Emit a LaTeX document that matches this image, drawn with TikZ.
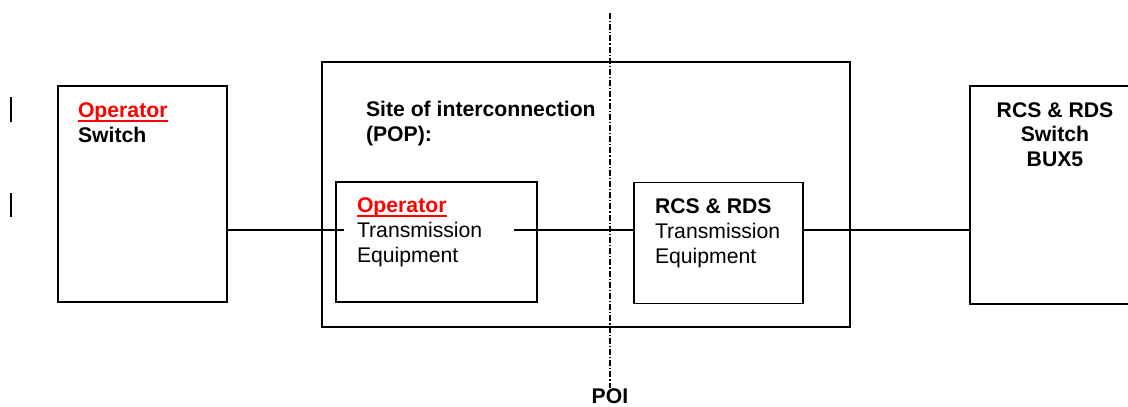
\documentclass[tikz,border=0pt]{standalone}
\usepackage{fontspec}
\setmainfont{Liberation Sans}
\begin{document}
\begin{tikzpicture}[x=1pt,y=-1pt,
  box/.style={draw, line width=1.5pt, inner sep=0pt, outer sep=0pt},
  lbl/.style={anchor=base west, inner sep=0pt, outer sep=0pt, font=\fontsize{21.2}{25}\selectfont},
  lblb/.style={lbl, font=\fontsize{21.2}{25}\selectfont\bfseries},
  lblc/.style={lblb, anchor=base},
  redlbl/.style={lblb, text=red},
  uline/.style={red, line width=2pt},
  conn/.style={line width=1.5pt},
  poiline/.style={line width=1.2pt, dash pattern=on 6pt off 2pt on 1.2pt off 2pt}]
\useasboundingbox (0,0) rectangle (1128,407);
\clip (0,0) rectangle (1128,407);
% revision bars
\draw[line width=1.8pt] (11,97) -- (11,122);
\draw[line width=1.8pt] (11,193) -- (11,217);
% boxes
\node[box, minimum width=169pt, minimum height=216pt] (osw) at (142.5,194) {};
\node[box, minimum width=528pt, minimum height=265pt] (pop) at (586,194.5) {};
\node[box, minimum width=201pt, minimum height=120pt] (ote) at (436.5,242) {};
\node[box, minimum width=169pt, minimum height=121pt] (rte) at (718.5,243) {};
\node[box, minimum width=190pt, minimum height=218pt] (rsw) at (1065,195) {};
% operator switch text
\node[redlbl] (osw1) at (78,117) {Operator};
\draw[uline] ([yshift=-3.5pt]osw1.base west) -- ([yshift=-3.5pt]osw1.base east);
\node[lblb] (osw2) at (78,142) {Switch};
% site text
\node[lblb] (site1) at (366,116) {Site of interconnection};
\node[lblb] (site2) at (366,141) {(POP):};
% operator TE text
\node[redlbl] (ote1) at (357,212) {Operator};
\draw[uline] ([yshift=-3.5pt]ote1.base west) -- ([yshift=-3.5pt]ote1.base east);
\node[lbl] (ote2) at (357,237) {Transmission};
\node[lbl] (ote3) at (357,262) {Equipment};
% RCS TE text
\node[lblb] (rte1) at (655,213) {RCS \& RDS};
\node[lbl] (rte2) at (655,238) {Transmission};
\node[lbl] (rte3) at (655,263) {Equipment};
% right switch text
\node[lblc] (rsw1) at (1055,117) {RCS \& RDS};
\node[lblc] (rsw2) at (1055,141.5) {Switch};
\node[lblc] (rsw3) at (1055,166) {BUX5};
% POI
\node[lblc] (poi) at (610,403) {POI};
\coordinate (poitop) at (610,13);
\draw[poiline] (poitop) -- (poi.north);
% connectors
\coordinate (c1) at (344,230);
\coordinate (c2) at (514,230);
\draw[conn] (osw.east |- c1) -- (c1);
\draw[conn] (c2) -- (rte.west |- c2);
\draw[conn] (rte.east |- c2) -- (rsw.west |- c2);
\end{tikzpicture}
\end{document}
